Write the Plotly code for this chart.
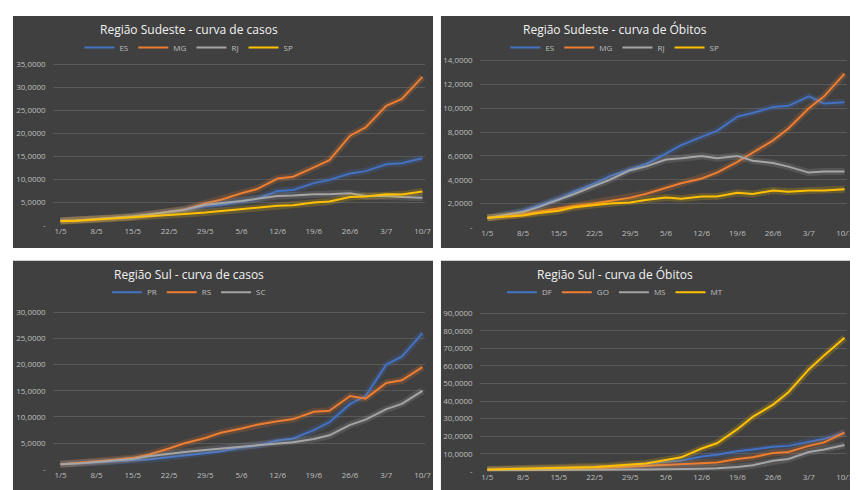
import plotly.graph_objects as go
import pandas as pd

dates = ["2020-05-01","2020-05-04","2020-05-08","2020-05-11","2020-05-15","2020-05-18","2020-05-22",
         "2020-05-25","2020-05-29","2020-06-01","2020-06-05","2020-06-08","2020-06-12","2020-06-15",
         "2020-06-19","2020-06-22","2020-06-26","2020-06-29","2020-07-03","2020-07-06","2020-07-10"]

se_casos = {
 "ES": [1000,1100,1400,1600,1900,2200,2800,3300,4200,4500,5200,5800,7500,7700,9200,9900,11300,11800,13300,13500,14600],
 "MG": [1000,1100,1400,1600,1900,2300,2900,3500,4800,5600,7000,7900,10200,10600,12600,14200,19500,21300,26000,27500,32300],
 "RJ": [1000,1100,1400,1600,2000,2400,3000,3400,4500,4800,5300,5800,6400,6500,6800,6800,7000,6400,6400,6200,6000],
 "SP": [900,1000,1300,1500,1800,1900,2200,2500,2800,3100,3500,3800,4300,4400,5000,5200,6200,6300,6800,6700,7400],
}
se_obitos = {
 "ES": [800,1000,1400,1800,2400,3000,3700,4300,4900,5300,6200,6900,7600,8100,9300,9600,10100,10200,11000,10400,10500],
 "MG": [800,900,1100,1300,1600,1800,2000,2200,2500,2800,3300,3700,4100,4600,5500,6300,7300,8300,10000,11000,12900],
 "RJ": [800,1000,1300,1700,2300,2800,3500,4000,4800,5100,5700,5800,6000,5800,6000,5600,5400,5100,4600,4700,4700],
 "SP": [800,900,1000,1200,1400,1700,1900,2000,2100,2300,2500,2400,2600,2600,2900,2800,3100,3000,3100,3100,3200],
}
sul_casos = {
 "PR": [1000,1100,1300,1500,1700,1900,2300,2700,3100,3400,4200,4500,5500,5900,7500,9000,12500,14000,20000,21500,26000],
 "RS": [1000,1200,1500,1800,2200,2800,4000,5000,6000,7000,7800,8500,9200,9600,11000,11200,14000,13500,16500,17000,19500],
 "SC": [1000,1100,1400,1600,2000,2500,3000,3300,3700,3900,4300,4600,5000,5200,5800,6500,8500,9500,11500,12500,15000],
}
co_obitos = {
 "DF": [1000,1100,1200,1300,1500,1700,2000,2300,3000,4000,5500,6000,8500,9500,11500,12500,14000,14500,17000,18500,22000],
 "GO": [800,900,1000,1100,1300,1500,1800,2200,2800,3000,3800,4200,4800,5000,7000,8000,10500,11000,14500,16500,22000],
 "MS": [500,600,700,700,800,800,900,1000,1000,1000,1100,1200,1500,1800,2500,3500,6000,7000,11000,12500,15000],
 "MT": [1000,1200,1400,1500,1800,2000,2500,3000,4000,4500,6500,8000,13000,16000,24000,31000,38000,45000,58000,66000,76000],
}
titles = ["Região Sudeste - curva de casos", "Região Sudeste - curva de Óbitos",
          "Região Sul - curva de casos", "Região Sul - curva de Óbitos"]
colors = ["#4472C4", "#ED7D31", "#A5A5A5", "#FFC000"]
x = pd.to_datetime(dates)

W, H = 858, 490
panels = [
    ((5, 5, 428, 241), (45, 51, 420, 218), 35000, 5000, se_casos),
    ((436, 5, 855, 241), (475, 47, 845, 220), 14000, 2000, se_obitos),
    ((5, 254, 428, 489), (45, 303, 420, 466), 30000, 5000, sul_casos),
    ((436, 254, 855, 489), (475, 304, 845, 468), 90000, 10000, co_obitos),
]

fig = go.Figure()
shapes, annotations = [], []
layout = {}
for i, (box, plot, ymax, dt, data) in enumerate(panels):
    n = "" if i == 0 else str(i + 1)
    shapes.append(dict(type="rect", xref="paper", yref="paper", x0=box[0]/W, x1=box[2]/W,
                       y0=1-box[3]/H, y1=1-box[1]/H, fillcolor="#404040", line=dict(width=0), layer="below"))
    cx = (box[0]+box[2])/2
    annotations.append(dict(text=titles[i], xref="paper", yref="paper", x=cx/W - 0.04, y=1-(box[1]+14)/H,
                            showarrow=False, font=dict(size=12, color="#F2F2F2", family="Open Sans"),
                            xanchor="center", yanchor="middle"))
    tv = list(range(0, ymax + 1, dt))
    tt = ["-" if v == 0 else f"{v//1000},0000" for v in tv]
    layout["xaxis"+n] = dict(domain=[plot[0]/W, plot[2]/W], anchor="y"+n, type="date",
                             range=["2020-04-29 12:00", "2020-07-10 12:00"],
                             tickvals=pd.date_range("2020-05-01", "2020-07-10", freq="7D"),
                             tickformat="%-d/%-m", showgrid=False, zeroline=False,
                             tickfont=dict(size=8, color="#BFBFBF"), showline=False)
    layout["yaxis"+n] = dict(domain=[1-plot[3]/H, 1-plot[1]/H], anchor="x"+n, range=[0, ymax*1.02],
                             tickvals=tv, ticktext=tt, gridcolor="#595959", zeroline=False,
                             ticklabelstandoff=6, tickfont=dict(size=8, color="#BFBFBF"))
    legname = "legend" + n
    layout[legname] = dict(orientation="h", x=cx/W - 0.04, xanchor="center", y=1-(box[1]+32)/H,
                           yanchor="middle", font=dict(size=8, color="#BFBFBF"), bgcolor="rgba(0,0,0,0)",
                           itemwidth=30, tracegroupgap=0)
    for j, (name, vals) in enumerate(data.items()):
        fig.add_trace(go.Scatter(x=x, y=vals, mode="lines", line=dict(color=colors[j], width=7),
                                 opacity=0.2, showlegend=False, hoverinfo="skip",
                                 xaxis="x"+n, yaxis="y"+n))
        fig.add_trace(go.Scatter(x=x, y=vals, name=name, mode="lines", line=dict(color=colors[j], width=2),
                                 xaxis="x"+n, yaxis="y"+n, legend=legname))

fig.update_layout(width=W, height=H, margin=dict(l=0, r=0, t=0, b=0), paper_bgcolor="white",
                  plot_bgcolor="rgba(0,0,0,0)", shapes=shapes, annotations=annotations,
                  font=dict(family="Open Sans"), **layout)
fig.write_html("out.html")
